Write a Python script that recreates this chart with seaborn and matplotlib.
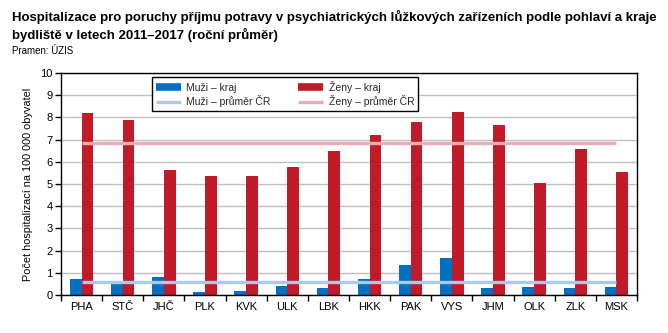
import matplotlib
matplotlib.use("Agg")
import matplotlib.pyplot as plt
from matplotlib.lines import Line2D
from matplotlib.ticker import FixedLocator, NullFormatter
import seaborn as sns
import pandas as pd

# Regions (kraje) and yearly average hospitalisations per 100 000 inhabitants
regions = ["PHA", "STČ", "JHČ", "PLK", "KVK", "ULK", "LBK",
           "HKK", "PAK", "VYS", "JHM", "OLK", "ZLK", "MSK"]
men = [0.72, 0.50, 0.81, 0.14, 0.18, 0.41, 0.32,
       0.72, 1.35, 1.67, 0.32, 0.36, 0.32, 0.36]
women = [8.20, 7.88, 5.63, 5.36, 5.36, 5.77, 6.49,
         7.20, 7.79, 8.24, 7.66, 5.05, 6.58, 5.54]
men_avg = 0.57
women_avg = 6.83

series_men = "Muži – kraj"
series_women = "Ženy – kraj"
label_men_avg = "Muži – průměr ČR"
label_women_avg = "Ženy – průměr ČR"

c_men = "#0070C0"
c_women = "#C11B29"
c_men_avg = "#A8CBE7"
c_women_avg = "#E8AEB4"

df = pd.DataFrame({
    "kraj": regions * 2,
    "hodnota": men + women,
    "pohlavi": [series_men] * len(regions) + [series_women] * len(regions),
})

sns.set_theme(style="white")
plt.rcParams["font.family"] = ["Liberation Sans", "DejaVu Sans"]

fig = plt.figure(figsize=(6.68, 3.33), dpi=100)
ax = fig.add_axes([0.0913, 0.1141, 0.8623, 0.6667])

sns.barplot(data=df, x="kraj", y="hodnota", hue="pohlavi", order=regions,
            hue_order=[series_men, series_women],
            palette=[c_men, c_women], saturation=1, width=0.57,
            linewidth=0, errorbar=None, legend=False, ax=ax, zorder=2)

# National averages as horizontal lines across category centres
ax.plot([0, len(regions) - 1], [men_avg, men_avg], color=c_men_avg,
        lw=2.4, solid_capstyle="butt", zorder=3)
ax.plot([0, len(regions) - 1], [women_avg, women_avg], color=c_women_avg,
        lw=2.4, solid_capstyle="butt", zorder=3)

ax.set_xlim(-0.5, len(regions) - 0.5)
ax.set_ylim(0, 10)
ax.set_yticks(range(0, 11))
ax.yaxis.grid(True, color="#BFBFBF", lw=1)
ax.set_axisbelow(True)

for s in ax.spines.values():
    s.set_visible(True)
    s.set_color("black")
    s.set_linewidth(1.0)

ax.tick_params(axis="y", which="major", direction="out", length=4, width=1,
               color="black", labelsize=8, pad=2, left=True)
ax.tick_params(axis="x", which="major", length=0, labelsize=8, pad=5)
ax.xaxis.set_minor_locator(FixedLocator([i - 0.5 for i in range(len(regions) + 1)]))
ax.xaxis.set_minor_formatter(NullFormatter())
ax.tick_params(axis="x", which="minor", direction="out", length=4, width=1,
               color="black", bottom=True)
for lab in ax.get_xticklabels() + ax.get_yticklabels():
    lab.set_color("black")

ax.set_xlabel("")
ax.set_ylabel("Počet hospitalizací na 100 000 obyvatel", fontsize=7.8,
              color="black", labelpad=5)

handles = [
    Line2D([0], [0], color=c_men, lw=5.5, solid_capstyle="butt"),
    Line2D([0], [0], color=c_men_avg, lw=2.4, solid_capstyle="butt"),
    Line2D([0], [0], color=c_women, lw=5.5, solid_capstyle="butt"),
    Line2D([0], [0], color=c_women_avg, lw=2.4, solid_capstyle="butt"),
]
labels = [series_men, label_men_avg, series_women, label_women_avg]
leg = ax.legend(handles, labels, ncol=2, loc="upper left",
                bbox_to_anchor=(0.158, 0.982), fontsize=7.5, frameon=True,
                fancybox=False, edgecolor="black", framealpha=1,
                borderpad=0.35, handlelength=2.4, handletextpad=0.55,
                columnspacing=2.6, labelspacing=0.25, borderaxespad=0)
leg.get_frame().set_linewidth(1.0)

title_font = ["Liberation Sans Narrow", "Liberation Sans", "DejaVu Sans"]
fig.text(0.018, 0.948,
         "Hospitalizace pro poruchy příjmu potravy v psychiatrických lůžkových zařízeních podle pohlaví a kraje",
         fontsize=9.5, fontweight="bold", family=title_font,
         ha="left", va="center", color="black")
fig.text(0.018, 0.895, "bydliště v letech 2011–2017 (roční průměr)",
         fontsize=9.5, fontweight="bold", family=title_font,
         ha="left", va="center", color="black")
fig.text(0.018, 0.847, "Pramen: ÚZIS", fontsize=7, family=title_font,
         ha="left", va="center", color="black")

fig.savefig("out.png", dpi=100)
